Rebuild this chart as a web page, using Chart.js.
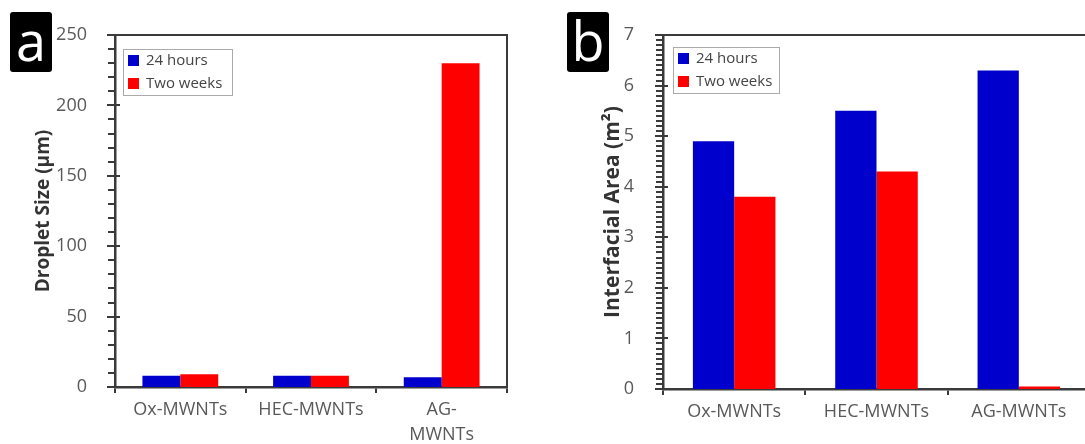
<!DOCTYPE html>
<html>
<head>
<meta charset="utf-8">
<script src="https://cdn.jsdelivr.net/npm/chart.js@4/dist/chart.umd.min.js"></script>
<style>
  html, body { margin: 0; padding: 0; background: #fff; overflow: hidden; width: 1085px; height: 444px; }
  .panel { position: absolute; top: 0; height: 444px; }
  .tag {
    position: absolute; top: 12px; width: 42px; height: 60px;
    background: #000; color: #fff; border-radius: 3px;
    font: 54px "Open Sans", sans-serif; line-height: 56px; text-align: center;
  }
</style>
</head>
<body>
<div class="panel" style="left:0;width:540px"><canvas id="graficoGota" width="540" height="444"></canvas></div>
<div class="panel" style="left:540px;width:560px"><canvas id="graficoArea" width="560" height="444"></canvas></div>
<div class="tag" style="left:10px">a</div>
<div class="tag" style="left:567px">b</div>
<script>
// --- Dados ---
const categorias = ['Ox-MWNTs', 'HEC-MWNTs', 'AG-MWNTs'];
const categoriasQuebradas = ['Ox-MWNTs', 'HEC-MWNTs', ['AG-', 'MWNTs']];
const series = ['24 hours', 'Two weeks'];
const gota24h = [8, 8, 7];
const gotaDuasSemanas = [9, 8, 230];
const area24h = [4.9, 5.5, 6.3];
const areaDuasSemanas = [3.8, 4.3, 0.05];
const cores = ['#0000CC', '#FF0000'];

const corEixo = '#3a3a3a';
const fonte = '"Open Sans", sans-serif';

// Moldura (topo e direita), marcas do eixo y e legenda com borda.
const moldura = {
  id: 'moldura',
  afterDraw(chart, args, opts) {
    const { ctx, chartArea: a, scales: { y } } = chart;
    ctx.save();
    ctx.strokeStyle = corEixo;
    ctx.lineWidth = 2;
    ctx.beginPath();
    ctx.moveTo(a.left, a.top);
    ctx.lineTo(a.right, a.top);
    ctx.lineTo(a.right, a.bottom);
    ctx.stroke();

    // marcas do eixo y: maiores cruzam o eixo, menores ficam por fora
    ctx.lineWidth = 2;
    y.ticks.forEach(t => {
      const py = Math.round(y.getPixelForValue(t.value));
      const maior = Math.abs(t.value / opts.passo - Math.round(t.value / opts.passo)) < 1e-6;
      ctx.beginPath();
      ctx.moveTo(a.left - (maior ? 8 : 7), py);
      ctx.lineTo(a.left + (maior ? 5 : 1), py);
      ctx.stroke();
    });

    // legenda
    const lx = a.left + opts.legX, ly = a.top + opts.legY;
    ctx.fillStyle = '#fff';
    ctx.fillRect(lx, ly, opts.legW, 46);
    ctx.strokeStyle = '#aaa';
    ctx.lineWidth = 1;
    ctx.strokeRect(lx + 0.5, ly + 0.5, opts.legW, 46);
    ctx.font = '15px ' + fonte;
    ctx.textBaseline = 'middle';
    chart.data.datasets.forEach((ds, i) => {
      const cy = ly + 11 + i * 23;
      ctx.fillStyle = ds.backgroundColor;
      ctx.fillRect(lx + 5, cy - 5, 11, 11);
      ctx.fillStyle = '#444';
      ctx.fillText(ds.label, lx + 23, cy + 1);
    });
    ctx.restore();
  }
};

function criarGrafico(id, rotulos, dados1, dados2, cfg) {
  const ehMaior = v => Math.abs(v / cfg.passo - Math.round(v / cfg.passo)) < 1e-6;
  return new Chart(document.getElementById(id), {
    type: 'bar',
    data: {
      labels: rotulos,
      datasets: [
        { label: series[0], data: dados1, backgroundColor: cores[0] },
        { label: series[1], data: dados2, backgroundColor: cores[1] }
      ]
    },
    options: {
      responsive: false,
      animation: false,
      devicePixelRatio: 1,
      layout: { padding: { left: 0, top: cfg.topo, right: cfg.direita, bottom: 0 } },
      datasets: { bar: { barPercentage: 1, categoryPercentage: 0.58 } },
      plugins: {
        legend: { display: false },
        tooltip: { enabled: false },
        moldura: Object.assign({ passo: cfg.passo }, cfg.moldura)
      },
      scales: {
        x: {
          grid: { display: true, drawOnChartArea: false, drawTicks: true, tickLength: 6, color: corEixo, lineWidth: 2, offset: true },
          border: { display: true, color: corEixo, width: 2.5 },
          ticks: { color: '#595959', font: { family: fonte, size: 18, lineHeight: 1.4 }, padding: 4, maxRotation: 0, autoSkip: false },
          afterFit: s => { s.height = cfg.alturaX; }
        },
        y: {
          min: 0, max: cfg.max,
          grid: { display: false },
          border: { display: true, color: corEixo, width: 2.5 },
          ticks: {
            stepSize: cfg.menor, autoSkip: false, color: '#595959',
            font: { family: fonte, size: 18 }, padding: cfg.padY,
            callback: v => ehMaior(v) ? String(Math.round(v)) : ''
          },
          title: { display: true, text: cfg.titulo, color: '#333', font: { family: fonte, size: cfg.tamTitulo, weight: 'bold' }, padding: { top: cfg.padTitulo } },
          afterFit: s => { s.width = cfg.larguraY; }
        }
      }
    },
    plugins: [moldura]
  });
}

// --- Gráfico a: tamanho de gota ---
criarGrafico('graficoGota', categoriasQuebradas, gota24h, gotaDuasSemanas, {
  topo: 35, direita: 33, alturaX: 57, max: 250, passo: 50, menor: 10, padY: 20,
  larguraY: 115, titulo: 'Droplet Size (µm)', tamTitulo: 19, padTitulo: 32,
  moldura: { legX: 8, legY: 14, legW: 109 }
});

// --- Gráfico b: área interfacial ---
criarGrafico('graficoArea', categorias, area24h, areaDuasSemanas, {
  topo: 35, direita: 10, alturaX: 55, max: 7, passo: 1, menor: 0.1, padY: 21,
  larguraY: 123, titulo: 'Interfacial Area (m²)', tamTitulo: 21, padTitulo: 60,
  moldura: { legX: 10, legY: 12, legW: 106 }
});
</script>
</body>
</html>
